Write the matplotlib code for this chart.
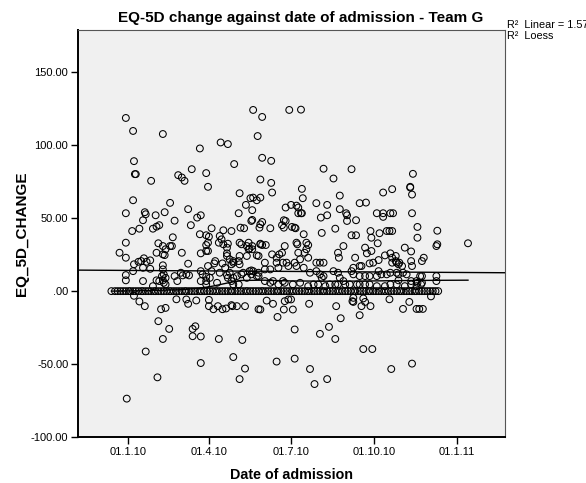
import numpy as np
import matplotlib
matplotlib.use("Agg")
import matplotlib.pyplot as plt
import matplotlib.dates as mdates
from matplotlib.ticker import FixedLocator, FuncFormatter

plt.rcParams["font.family"] = ["Liberation Sans", "DejaVu Sans"]

BASE = np.datetime64("2010-01-01")

# scatter points: days after 01.01.2010 and EQ-5D change
UPPER_DAYS = [-2, 6, 39, 139, 149, 179, 192, 80, 103, 111, 144, 7, 8, 9, 26, 56, 60, 63, 71, 87,
              118, 89, 149, 159, 147, 159, 217, 248, 228, 316, 313, 313, 193, 293, 283, 124, 160,
              315, 235]
UPPER_VALS = [118.7, 109.8, 107.7, 124.2, 119.4, 124.2, 124.4, 97.8, 101.9, 100.8, 106.3, 89.1,
              80.2, 80.2, 75.6, 79.5, 77.9, 75.6, 83.6, 80.9, 87.1, 71.5, 91.4, 89.3, 76.5, 74.2,
              83.9, 83.6, 77.2, 80.4, 71.0, 71.5, 70.1, 69.9, 67.6, 67.1, 67.6, 66.2, 65.5]

MID_DAYS = [6, -2, 19, 20, 17, 31, 41, 47, 52, 67, 70, 77, 81, 5, 13, 28, 32, 35, 50, 93, 87, 90,
            106, 102, 104, 115, 131, 123, 136, 139, 143, 147, 138, 137, 138, 125, 129, 146, 147,
            149, 158, 175, 181, 187, 189, 189, 192, 193, 173, 175, 171, 173, 182, 185, 186, 194,
            209, 221, 214, 221, 215, 230, 235, 242, 243, 243, 253, 257, 264, 248, 253, 269, 270,
            276, 279, 283, 283, 291, 294, 287, 290, 293, 315, 321, 321, 343]
MID_VALS = [62.3, 53.4, 54.1, 52.7, 48.6, 52.0, 54.1, 60.5, 48.3, 56.2, 45.2, 50.4, 52.0, 41.2,
            42.8, 42.8, 44.2, 45.2, 36.9, 43.1, 38.3, 37.3, 41.7, 37.8, 35.5, 41.2, 59.1, 53.4,
            63.7, 64.1, 62.3, 64.1, 55.5, 48.1, 48.8, 43.5, 43.1, 43.5, 45.8, 47.4, 43.1, 57.3,
            59.1, 58.6, 57.3, 53.4, 53.4, 53.4, 48.6, 48.1, 45.2, 43.5, 44.0, 43.5, 43.1, 63.7,
            60.3, 59.1, 50.4, 52.0, 39.9, 42.8, 56.2, 53.4, 52.0, 48.1, 48.6, 60.3, 60.7, 38.3,
            38.3, 41.2, 36.6, 53.4, 39.7, 53.4, 50.9, 53.4, 53.4, 41.2, 41.2, 41.2, 53.4, 44.0,
            36.6, 41.4]

LOW_DAYS = [-2, -9, -2, 34, 39, 42, 41, 47, 32, 39, 60, 7, 12, 15, 18, 21, 25, 25, 17, 6, -2, -2,
            17, 28, 32, 35, 39, 40, 42, 39, 39, 40, 42, 38, 52, 55, 59, 61, 65, 67, 68, 49, 80, 89,
            87, 87, 89, 81, 81, 83, 87, 87, 89, 96, 97, 93, 101, 106, 111, 110, 110, 110, 113, 117,
            105, 102, 108, 110, 111, 115, 117, 123, 124, 124, 126, 132, 134, 132, 124, 134, 113,
            117, 121, 126, 128, 132, 137, 139, 145, 115, 117, 123, 138, 145, 147, 81, 87, 99, 91,
            135, 138, 143, 147, 149, 153, 160, 165, 168, 171, 174, 187, 188, 198, 200, 189, 191,
            196, 198, 200, 195, 209, 213, 217, 152, 152, 158, 165, 167, 172, 176, 178, 185, 187,
            195, 202, 209, 213, 217, 215, 135, 137, 143, 145, 152, 158, 161, 167, 172, 174,
            239, 233, 234, 252, 263, 265, 270, 277, 268, 272, 278, 285, 291, 293, 293, 297, 298,
            300, 304, 259, 250, 228, 248, 250, 257, 257, 263, 268, 276, 278, 281, 287, 291, 298,
            300, 305, 309, 233, 235, 239,
            307, 314, 314, 315, 326, 328, 297, 301, 314, 320, 321, 324, 326, 342, 342, 343, 342,
            377, 300,
            183, 191, 200, 206, 211, 219, 224, 230, 233, 241, 246, 254, 257, 263, 268, 276, 285,
            291, 298, 307, 314, 320, 325, 326]
LOW_VALS = [33.2, 26.3, 22.9, 32.8, 30.9, 28.7, 24.7, 30.9, 26.3, 25.2, 26.3, 18.4, 20.1, 20.6,
            22.5, 20.1, 21.1, 15.3, 16.0, 13.7, 11.0, 7.4, 6.9, 3.4, 7.4, 6.9, 7.4, 5.7, 4.6, 17.7,
            14.9, 11.5, 9.1, 10.3, 10.3, 6.9, 12.6, 10.8, 11.5, 18.8, 10.8, 30.9, 39.0, 33.2, 31.6,
            27.5, 27.5, 25.9, 13.7, 11.5, 9.8, 6.9, 17.2, 19.0, 20.6, 13.7, 33.2, 32.1, 32.5, 29.8,
            25.9, 24.1, 21.8, 19.5, 19.0, 12.6, 16.0, 11.0, 9.1, 18.4, 20.6, 20.6, 24.1, 18.4, 32.1,
            30.9, 28.7, 24.1, 33.2, 33.2, 12.6, 9.1, 10.3, 11.5, 12.6, 9.1, 14.2, 13.7, 10.3, 6.9,
            4.6, 4.6, 28.7, 24.1, 32.1, 6.9, 4.6, 5.7, 9.1,
            29.1, 30.9, 24.5, 32.5, 31.6, 31.6, 25.2, 22.9, 25.2, 26.3, 30.9, 33.2, 32.1, 33.2,
            31.6, 26.3, 21.8, 26.3, 28.7, 22.9, 39.0, 19.5, 19.5, 19.5, 19.5, 14.9, 14.9, 19.5,
            16.0, 19.5, 19.5, 17.2, 19.5, 17.2, 16.0, 12.6, 13.7, 11.5, 10.3, 9.1, 13.7, 11.5,
            10.3, 12.6, 6.9, 5.7, 6.9, 4.6, 6.9, 5.7,
            30.9, 26.3, 22.9, 22.9, 29.8, 25.9, 27.5, 32.8, 19.0, 19.5, 21.3, 24.5, 25.9, 22.9,
            19.5, 20.6, 19.5, 18.4, 17.2, 17.2, 16.0, 13.7, 13.7, 11.5, 17.2, 10.3, 10.3, 10.3,
            10.3, 13.7, 11.5, 11.5, 12.6, 12.6, 11.5, 12.6, 11.5, 12.6, 9.1, 6.9,
            29.8, 27.2, 20.6, 17.2, 20.6, 22.9, 24.1, 19.5, 6.9, 6.9, 5.7, 10.3, 10.3, 10.3, 6.9,
            32.1, 30.9, 32.8, 7.4,
            4.6, 5.7, 3.4, 4.6, 4.6, 3.4, 4.6, 4.6, 4.6, 4.6, 4.6, 4.6, 4.6, 4.6, 4.6, 3.4, 3.4,
            4.6, 4.6, 3.4, 4.6, 3.4, 4.6, 5.7]

ZERO_DAYS = [-18, -14, -11, -8, -5, -2, 1, 3, 6, 9, 12, 15, 17, 20, 23, 26, 29, 31, 34, 37, 40,
             43, 46, 48, 51, 54, 57, 60, 63, 65, 68, 71, 74, 77, 80, 82, 85, 88, 91, 94, 97, 99,
             102, 105, 108, 111, 114, 116, 119, 122, 125, 128, 131, 133, 136, 139, 142, 145, 148,
             150, 153, 156, 159, 162, 165, 167, 170, 173, 176, 179, 182, 184, 187, 190, 193, 196,
             199, 201, 204, 207, 210, 213, 216, 218, 221, 224, 227, 230, 233, 235, 238, 241, 244,
             247, 250, 252, 255, 258, 261, 264, 267, 269, 272, 275, 278, 281, 284, 286, 289, 292,
             295, 298, 301, 303, 306, 309, 312, 315, 318, 320, 323, 326, 329, 332, 335, 338, 341,
             344]

NEG_DAYS = [7, 13, 19, 37, 42, 54, 65, 67, 76, 90, 90, 95, 100, 105, 109, 115, 116, 121, 130, 145,
            154, 161, 147, 174, 178, 181, 183, 173, 166, 201, 231, 236, 249, 250, 259, 263, 269,
            257, 250, 261, 290, 305, 312, 320, 323, 327, 336, 34, 46, 39, 72, 75, 72, 81, 101, 127,
            20, 117, 81, 33, 130, 124, -1, 185, 213, 223, 230, 261, 271, 165, 185, 202, 207, 221,
            292, 315]
NEG_VALS = [-3.2, -7.1, -10.3, -12.4, -11.5, -5.6, -5.7, -8.7, -6.4, -6.0, -10.3, -12.4, -10.3,
            -12.4, -11.9, -9.6, -10.3, -10.3, -10.3, -12.4, -6.5, -8.7, -12.6, -6.9, -5.7, -5.7,
            -12.6, -12.6, -17.7, -8.7, -10.3, -18.6, -6.9, -7.4, -10.3, -7.4, -10.3, -16.5, -4.6,
            -5.0, -5.6, -12.2, -7.4, -12.2, -12.2, -12.2, -3.6, -20.6, -25.9, -32.8, -25.9, -24.1,
            -30.9, -31.1, -32.8, -33.5, -41.4, -45.2, -49.3, -59.1, -53.1, -60.3, -73.7, -26.3,
            -29.3, -24.5, -32.8, -39.7, -39.7, -48.3, -46.3, -53.4, -63.7, -60.3, -53.4, -49.7]

# fit lines
LINEAR_DAYS = [-55, 418]
LINEAR_VALS = [14.4, 12.6]
LOESS_DAYS = [-18, 20, 60, 80, 95, 110, 125, 150, 180, 220, 260, 300, 340, 377]
LOESS_VALS = [0.0, 0.3, 1.0, 2.0, 3.5, 5.5, 7.3, 7.5, 7.0, 6.8, 6.9, 7.2, 7.4, 7.5]

TICK_DATES = ["2010-01-01", "2010-04-01", "2010-07-01", "2010-10-01", "2011-01-01"]
Y_TICKS = [-100, -50, 0, 50, 100, 150]


def to_dates(days):
    return mdates.date2num(BASE + np.array(days, dtype="timedelta64[D]"))


def date_label(v, pos):
    d = mdates.num2date(v)
    return "{:02d}.{}.{:02d}".format(d.day, d.month, d.year % 100)


days = UPPER_DAYS + MID_DAYS + LOW_DAYS + ZERO_DAYS + NEG_DAYS
vals = UPPER_VALS + MID_VALS + LOW_VALS + [0.0] * len(ZERO_DAYS) + NEG_VALS

fig = plt.figure(figsize=(5.86, 4.83), dpi=100)
ax = fig.add_axes([78 / 586, 1 - 437 / 483, 427 / 586, 407 / 483])
ax.set_facecolor("#f0f0f0")

ax.scatter(to_dates(days), vals, s=24, facecolors="none", edgecolors="black",
           linewidths=0.75, zorder=3)
ax.plot(to_dates(LINEAR_DAYS), LINEAR_VALS, color="black", lw=1.0, zorder=4)
ax.plot(to_dates(LOESS_DAYS), LOESS_VALS, color="black", lw=1.0, zorder=4)

ax.set_xlim(to_dates([-55, 418]))
ax.set_ylim(-100, 179)

ax.xaxis.set_major_locator(FixedLocator(mdates.datestr2num(TICK_DATES)))
ax.xaxis.set_major_formatter(FuncFormatter(date_label))
ax.yaxis.set_major_locator(FixedLocator(Y_TICKS))
ax.yaxis.set_major_formatter(FuncFormatter(
    lambda v, p: ".00" if v == 0 else "{:.2f}".format(v)))

ax.tick_params(direction="out", length=5, width=1, labelsize=8, color="black", pad=2)
for side in ["left", "bottom"]:
    ax.spines[side].set_linewidth(1.4)
for side in ["top", "right"]:
    ax.spines[side].set_linewidth(0.8)
    ax.spines[side].set_color("#555555")

ax.set_title("EQ-5D change against date of admission - Team G", fontsize=11,
             fontweight="bold", x=0.522, pad=6)
ax.set_xlabel("Date of admission", fontsize=10.3, fontweight="bold", labelpad=8)
ax.set_ylabel("EQ_5D_CHANGE", fontsize=11, fontweight="bold")
ax.yaxis.set_label_coords(-0.115, 0.5)

fig.text(507 / 586, 1 - 25 / 483, "R²  Linear = 1.57E-4", fontsize=7.8, va="center")
fig.text(507 / 586, 1 - 36 / 483, "R²  Loess", fontsize=7.8, va="center")

fig.savefig("out.png", dpi=100)
